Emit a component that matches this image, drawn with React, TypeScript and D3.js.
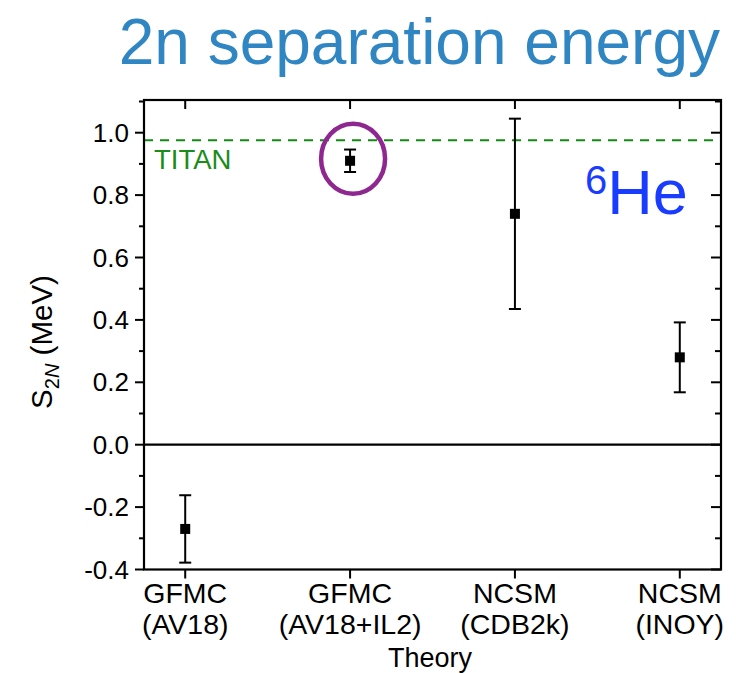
import React from "react";
import * as d3 from "d3";

// Two-neutron separation energy of 6He from different theory calculations
const methodNames = ["GFMC", "GFMC", "NCSM", "NCSM"];
const interactionNames = ["(AV18)", "(AV18+IL2)", "(CDB2k)", "(INOY)"];
const s2nValues = [-0.27, 0.91, 0.74, 0.28];
const s2nErrors = [0.108, 0.036, 0.305, 0.112];
const titanValue = 0.976;
const yMajorTicks = [-0.4, -0.2, 0.0, 0.2, 0.4, 0.6, 0.8, 1.0];
const yMinorTicks = [-0.3, -0.1, 0.1, 0.3, 0.5, 0.7, 0.9, 1.1];

const W = 736;
const H = 673;
const FONT = "'Liberation Sans', Arial, Helvetica, sans-serif";

const left = 144;
const right = 721;
const top = 100;
const bottom = 569.5;

export default function App() {
  const positions = methodNames.map((_, i) => i + 1);
  const x = d3.scaleLinear().domain([0.75, 4.25]).range([left, right]);
  const y = d3.scaleLinear().domain([-0.4, 1.1]).range([bottom, bottom - 1.5 * 312]);

  // plain hyphen for negative tick labels
  const fmt = (v: number) => d3.format(".1f")(v).replace("\u2212", "-");

  return (
    <svg
      width={W}
      height={H}
      viewBox={`0 0 ${W} ${H}`}
      style={{ position: "absolute", left: 0, top: 0, background: "#fff" }}
      fontFamily={FONT}
    >
      {/* Title */}
      <text x={720} y={64} textAnchor="end" fontSize={64} fill="#2f86c3">
        2n separation energy
      </text>

      {/* TITAN measurement */}
      <line
        x1={left}
        x2={right}
        y1={y(titanValue)}
        y2={y(titanValue)}
        stroke="#138a13"
        strokeWidth={2}
        strokeDasharray="9,7"
      />
      <text x={154} y={169} fontSize={27.5} fill="#1a8c1a">
        TITAN
      </text>

      {/* zero line */}
      <line x1={left} x2={right} y1={y(0)} y2={y(0)} stroke="#000" strokeWidth={2.2} />

      {/* error bars and points */}
      {positions.map((p, i) => {
        const cx = x(p);
        const yHi = y(s2nValues[i] + s2nErrors[i]);
        const yLo = y(s2nValues[i] - s2nErrors[i]);
        const cy = y(s2nValues[i]);
        return (
          <g key={i}>
            <line x1={cx} x2={cx} y1={yHi} y2={yLo} stroke="#000" strokeWidth={2} />
            <line x1={cx - 6} x2={cx + 6} y1={yHi} y2={yHi} stroke="#000" strokeWidth={2} />
            <line x1={cx - 6} x2={cx + 6} y1={yLo} y2={yLo} stroke="#000" strokeWidth={2} />
            <rect x={cx - 5} y={cy - 5} width={10} height={10} fill="#000" />
          </g>
        );
      })}

      {/* highlight ring */}
      <ellipse
        cx={x(2) + 3}
        cy={y(s2nValues[1]) - 2}
        rx={32}
        ry={35}
        fill="none"
        stroke="#8e278f"
        strokeWidth={4.5}
      />

      {/* 6He label */}
      <text x={609} y={214} fontSize={63} fill="#1a3cff">
        <tspan fontSize={40} dy={-20} x={585}>6</tspan>
        <tspan dy={20}>He</tspan>
      </text>

      {/* y ticks: left outward, right inward */}
      {yMajorTicks.map((t) => (
        <g key={"M" + t}>
          <line x1={left - 9} x2={left} y1={y(t)} y2={y(t)} stroke="#000" strokeWidth={2} />
          <line x1={right - 10} x2={right} y1={y(t)} y2={y(t)} stroke="#000" strokeWidth={2} />
          <text
            x={129}
            y={y(t)}
            dy="0.35em"
            textAnchor="end"
            fontSize={26}
            fill="#000"
          >
            {fmt(t)}
          </text>
        </g>
      ))}
      {yMinorTicks.map((t) => (
        <g key={"m" + t}>
          <line x1={left - 5} x2={left} y1={y(t)} y2={y(t)} stroke="#000" strokeWidth={2} />
          <line x1={right - 6} x2={right} y1={y(t)} y2={y(t)} stroke="#000" strokeWidth={2} />
        </g>
      ))}

      {/* x ticks: bottom outward, top inward */}
      {positions.map((p, i) => (
        <g key={"x" + i}>
          <line x1={x(p)} x2={x(p)} y1={bottom} y2={bottom + 9} stroke="#000" strokeWidth={2} />
          <line x1={x(p)} x2={x(p)} y1={top} y2={top + 9} stroke="#000" strokeWidth={2} />
          <text x={x(p)} y={603} textAnchor="middle" fontSize={28.5} fill="#000">
            {methodNames[i]}
          </text>
          <text x={x(p)} y={634} textAnchor="middle" fontSize={28.5} fill="#000">
            {interactionNames[i]}
          </text>
        </g>
      ))}

      {/* frame */}
      <rect
        x={left}
        y={top}
        width={right - left}
        height={bottom - top}
        fill="none"
        stroke="#000"
        strokeWidth={2.2}
      />

      {/* axis titles */}
      <text x={430} y={667} textAnchor="middle" fontSize={27} fill="#000">
        Theory
      </text>
      <text
        transform={`translate(52, 342) rotate(-90)`}
        textAnchor="middle"
        fontSize={29.5}
        fill="#000"
      >
        <tspan>S</tspan>
        <tspan fontSize={20} dy={7}>
          2<tspan fontStyle="italic">N</tspan>
        </tspan>
        <tspan dy={-7}> (MeV)</tspan>
      </text>
    </svg>
  );
}
